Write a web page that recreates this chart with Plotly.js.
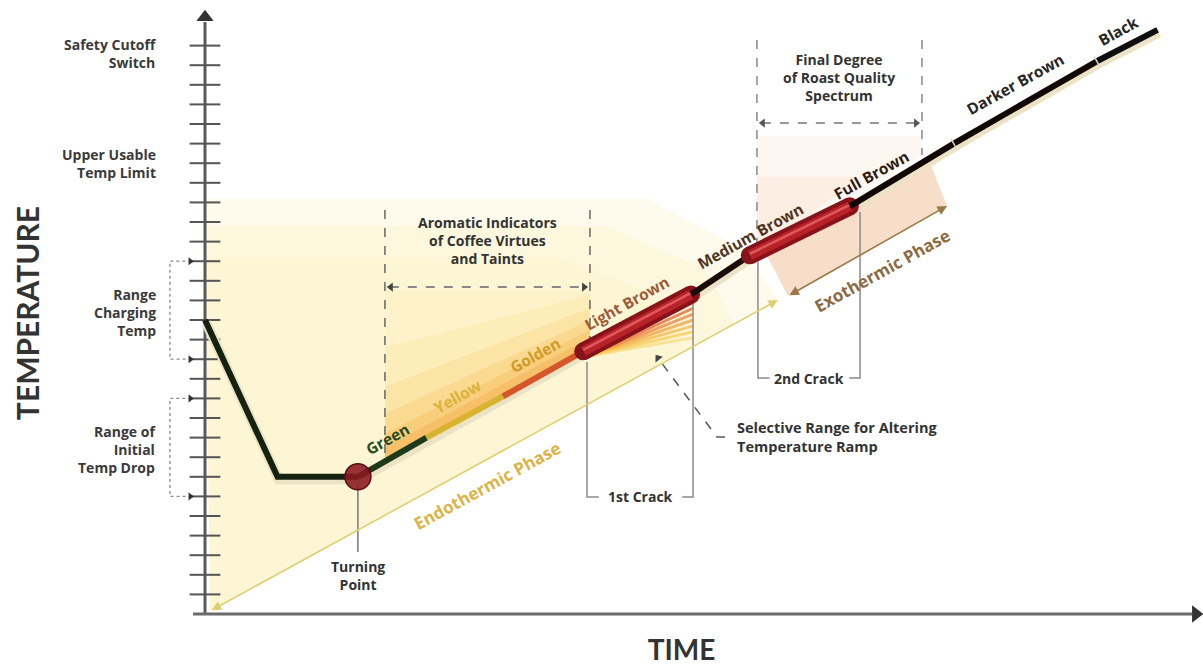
<!DOCTYPE html>
<html><head><meta charset="utf-8">
<script src="https://cdn.plot.ly/plotly-3.0.1.min.js"></script>
<style>html,body{margin:0;padding:0;background:#fff}#chart{width:1203px;height:666px}</style>
</head><body><div id="chart"></div>
<script>
// ---------- data (time / temperature in axis tick units) ----------
const roastTime = [0, 3.7, 7.8, 11.3, 15.2, 19.3, 24.8, 27.8, 32.9, 38.2, 45.5, 48.6];
const roastTemp = [15.0, 7.0, 7.0, 9.0, 11.1, 13.4, 16.3, 18.3, 20.8, 24.0, 28.2, 29.8];
const segStart = [0, 2, 3, 4, 5, 6, 7, 8, 9, 10];
const segEnd   = [2, 3, 4, 5, 6, 7, 8, 9, 10, 11];
const segIsCrack = [false, false, false, false, true, false, true, false, false, false];

const stageNames = ['Green', 'Yellow', 'Golden', 'Light Brown', 'Medium Brown', 'Full Brown', 'Darker Brown', 'Black'];
const stageLabelTime = [9.29, 12.91, 16.84, 21.53, 27.81, 33.98, 41.33, 46.58];
const stageLabelTemp = [8.95, 11.1, 13.2, 15.85, 19.3, 22.4, 27.05, 29.75];

const tickLevels = [1,2,3,4,5,6,7,8,9,10,11,12,13,14,15,16,17,18,19,20,21,22,23,24,25,26,27,28,29];
const axisEndTime = 50.36, axisEndTemp = 30.2;

const sideLabels = ['Safety Cutoff<br>Switch', 'Upper Usable<br>Temp Limit', 'Range<br>Charging<br>Temp', 'Range of<br>Initial<br>Temp Drop'];
const sideLabelTemp = [28.62, 23.01, 15.36, 8.37];
const rangeTop = [18, 11];
const rangeBottom = [13, 6];

const crackNames = ['1st Crack', '2nd Crack'];
const crackStart = [19.49, 28.21];
const crackEnd = [24.90, 33.42];
const crackStartTemp = [12.86, 17.96];
const crackEndTemp = [16.02, 20.51];
const crackLabelTemp = [5.97, 12.04];

const turningLabelTemp = 3.16;

const aromaStart = 9.18, aromaEnd = 19.64, aromaTop = 20.61, aromaArrowTemp = 16.68;
const aromaStartCurve = 7.81, aromaEndCurve = 13.57;
const finalStart = 28.16, finalEnd = 36.58, finalTop = 29.29, finalArrowTemp = 25.05;
const finalStartCurve = 18.47, finalEndCurve = 23.42;

const endoFrom = [0.26, 0.15], endoTo = [29.23, 16.02];
const exoFrom = [29.74, 16.22], exoTo = [37.86, 20.82];
const exoZoneX = [28.57, 29.74, 37.86, 36.89];
const exoZoneY = [18.47, 16.22, 20.82, 23.27];

const fanOrigin = [19.54, 13.16];
const fanEndTime = 24.9;
const fanEndTemp = [15.9, 15.6, 15.3, 15.0, 14.7, 14.4, 14.1];

const selectPath = {x: [26.53, 26.12, 23.11], y: [9.03, 9.03, 13.06]};

// ---------- styles ----------
const F = '"Open Sans", Lato, sans-serif';
const FT = 'Lato, "Open Sans", sans-serif';
const segColor = ['#14220f', '#1f3a1a', '#d8b330', '#d5562b', '#8e151a', '#1a0c08', '#8e151a', '#120906', '#120906', '#0e0e0e'];
const stageColor = ['#2a4a22', '#d9b43a', '#cf9a25', '#9c5b3a', '#4f3420', '#2c1c12', '#262626', '#262626'];
const fanColor = ['rgba(207,58,34,0.7)', 'rgba(221,90,42,0.7)', 'rgba(230,122,48,0.7)', 'rgba(238,154,56,0.7)', 'rgba(242,178,64,0.7)', 'rgba(245,199,74,0.7)', 'rgba(247,214,110,0.6)'];

const traces = [];
function poly(x, y, color) {
  traces.push({type: 'scatter', mode: 'lines', x: x, y: y, fill: 'toself', fillcolor: color, line: {width: 0}, hoverinfo: 'skip'});
}
function line(x, y, color, width, dash) {
  traces.push({type: 'scatter', mode: 'lines', x: x, y: y, line: {color: color, width: width, dash: dash || 'solid'}, hoverinfo: 'skip'});
}
function marks(x, y, symbol, size, color, angle, lineW) {
  const m = {symbol: symbol, size: size, color: color, angle: angle || 0};
  if (lineW) m.line = {color: color, width: lineW};
  traces.push({type: 'scatter', mode: 'markers', x: x, y: y, marker: m, hoverinfo: 'skip', cliponaxis: false});
}

// background glow (endothermic zone), soft layered
poly([0, 22.5, 27.5, 29.23, endoFrom[0]], [21.2, 21.2, 18.6, endoTo[1], endoFrom[1]], 'rgba(253,248,220,0.55)');
poly([0, 20.5, 25.5, 27.0, endoFrom[0]], [19.8, 19.8, 17.6, 14.8, endoFrom[1]], 'rgba(252,245,205,0.45)');
poly([0, 18.0, 23.0, 24.5, endoFrom[0]], [18.2, 18.2, 16.3, 13.4, endoFrom[1]], 'rgba(252,243,195,0.35)');
// aromatic zone gradient (fades upward from curve)
const aromaTops = [[16.5, 16.5], [13.6, 16.3], [11.6, 15.6], [10.2, 15.0], [9.2, 14.5], [8.5, 14.1]];
const aromaFill = ['rgba(252,236,180,0.35)', 'rgba(251,224,150,0.3)', 'rgba(250,208,120,0.3)', 'rgba(248,192,95,0.3)', 'rgba(246,178,75,0.3)', 'rgba(243,160,60,0.3)'];
aromaTops.forEach((t, i) => poly([aromaStart, aromaEnd, aromaEnd, aromaStart], [t[0], t[1], aromaEndCurve, aromaStartCurve], aromaFill[i]));
// final degree + exothermic zones
poly([finalStart, finalEnd, finalEnd, finalStart], [24.4, 24.4, finalEndCurve, finalStartCurve], 'rgba(250,232,214,0.35)');
poly([finalStart, 33.5, finalStart], [22.3, 22.3, finalStartCurve], 'rgba(248,222,200,0.35)');
poly(exoZoneX, exoZoneY, 'rgba(246,216,192,0.85)');
// fan under 1st crack
fanEndTemp.forEach((t, i) => line([fanOrigin[0], fanEndTime], [fanOrigin[1], t], fanColor[i], 3));

// axes
line([0, 0], [0, axisEndTemp], '#5a5a5a', 3);
line([-0.61, axisEndTime], [0, 0], '#6a6a6a', 3);
marks(tickLevels.map(() => 0), tickLevels, 'line-ew', 22, '#555', 0, 2);
marks([0], [30.45], 'triangle-up', 15, '#333');
marks([50.55], [0], 'triangle-right', 15, '#333');

// left range brackets
rangeTop.forEach((t, i) => {
  line([-0.7, -1.79, -1.79, -0.7], [t, t, rangeBottom[i], rangeBottom[i]], '#888', 1.3, 'dot');
  marks([-0.75, -0.75], [t, rangeBottom[i]], 'triangle-right', 7, '#333');
});

// aromatic bracket
line([aromaStart, aromaStart], [aromaTop, aromaStartCurve], '#666', 1.5, 'dash');
line([aromaEnd, aromaEnd], [aromaTop, aromaEndCurve], '#666', 1.5, 'dash');
line([aromaStart + 0.25, aromaEnd - 0.25], [aromaArrowTemp, aromaArrowTemp], '#666', 1.5, 'dash');
marks([aromaStart + 0.3], [aromaArrowTemp], 'triangle-left', 8, '#444');
marks([aromaEnd - 0.3], [aromaArrowTemp], 'triangle-right', 8, '#444');
// final degree bracket
line([finalStart, finalStart], [finalTop, finalStartCurve], '#888', 1.5, 'dash');
line([finalEnd, finalEnd], [finalTop, finalEndCurve], '#888', 1.5, 'dash');
line([finalStart + 0.25, finalEnd - 0.25], [finalArrowTemp, finalArrowTemp], '#777', 1.5, 'dash');
marks([finalStart + 0.3], [finalArrowTemp], 'triangle-left', 8, '#555');
marks([finalEnd - 0.3], [finalArrowTemp], 'triangle-right', 8, '#555');

// crack brackets
crackNames.forEach((n, i) => {
  line([crackStart[i], crackStart[i], crackStart[i] + 0.6], [crackStartTemp[i], crackLabelTemp[i], crackLabelTemp[i]], '#8a8a8a', 1.5);
  line([crackEnd[i], crackEnd[i], crackEnd[i] - 0.55], [crackEndTemp[i], crackLabelTemp[i], crackLabelTemp[i]], '#8a8a8a', 1.5);
});
// turning point leader
line([roastTime[2], roastTime[2]], [roastTemp[2], turningLabelTemp], '#777', 1.5);

// curve shadow
line(roastTime.map(t => t + 0.06), roastTemp.map(t => t - 0.13), '#ece3c6', 10);
// curve segments
segStart.forEach((s, i) => {
  const xs = roastTime.slice(s, segEnd[i] + 1), ys = roastTemp.slice(s, segEnd[i] + 1);
  if (segIsCrack[i]) {
    marks([xs[0], xs[xs.length - 1]], [ys[0], ys[ys.length - 1]], 'circle', 18, '#86121a');
    line(xs, ys, '#86121a', 18);
    line(xs, ys, '#b8232a', 10);
    line(xs, ys.map(v => v + 0.08), '#e0595d', 2.5);
  } else {
    line(xs, ys, segColor[i], 6);
  }
});
// stage dividers on the dark end of the curve
marks([roastTime[9], roastTime[10]], [roastTemp[9], roastTemp[10]], 'line-ns', 8, '#d8d8d8', -29, 1.5);
// turning point
traces.push({type: 'scatter', mode: 'markers', x: [roastTime[2]], y: [roastTemp[2]], marker: {size: 26, color: 'rgba(138,24,30,0.88)', line: {color: '#5c0d12', width: 1.5}}, hoverinfo: 'skip'});
// selective range leader
line(selectPath.x, selectPath.y, '#555', 1.5, 'dash');
marks([selectPath.x[2]], [selectPath.y[2]], 'triangle-up', 8, '#444', -37);

// ---------- annotations ----------
const ann = [];
const bold = (size, color) => ({family: F, size: size, color: color, weight: 'bold'});
stageNames.forEach((n, i) => ann.push({x: stageLabelTime[i], y: stageLabelTemp[i], text: n, showarrow: false, textangle: -29, font: bold(15.5, stageColor[i])}));
sideLabels.forEach((n, i) => ann.push({xref: 'paper', x: -0.002, xanchor: 'right', y: sideLabelTemp[i], text: n, align: 'right', showarrow: false, font: bold(14, '#3a3a3a')}));
crackNames.forEach((n, i) => ann.push({x: (crackStart[i] + crackEnd[i]) / 2, y: crackLabelTemp[i], text: n, showarrow: false, font: bold(14, '#333')}));
ann.push({x: roastTime[2], y: turningLabelTemp - 0.15, yanchor: 'top', text: 'Turning<br>Point', showarrow: false, font: bold(14, '#333')});
ann.push({x: (aromaStart + aromaEnd) / 2, y: 19.08, text: 'Aromatic Indicators<br>of Coffee Virtues<br>and Taints', showarrow: false, font: bold(14, '#333')});
ann.push({x: (finalStart + finalEnd) / 2, y: 27.35, text: 'Final Degree<br>of Roast Quality<br>Spectrum', showarrow: false, font: bold(14, '#333')});
ann.push({x: 27.04, y: 9.03, xanchor: 'left', align: 'left', text: 'Selective Range for Altering<br>Temperature Ramp', showarrow: false, font: bold(14.5, '#333')});
ann.push({x: 14.39, y: 6.58, text: 'Endothermic Phase', textangle: -28.6, showarrow: false, font: bold(17, '#dcb445')});
ann.push({x: 34.54, y: 17.55, text: 'Exothermic Phase', textangle: -29, showarrow: false, font: bold(17, '#8c6a42')});
ann.push({x: endoTo[0], y: endoTo[1], ax: endoFrom[0], ay: endoFrom[1], axref: 'x', ayref: 'y', text: '', showarrow: true, arrowside: 'end+start', arrowhead: 2, startarrowhead: 2, arrowsize: 1.2, startarrowsize: 1.2, arrowwidth: 1.6, arrowcolor: '#e0cf72'});
ann.push({x: exoTo[0], y: exoTo[1], ax: exoFrom[0], ay: exoFrom[1], axref: 'x', ayref: 'y', text: '', showarrow: true, arrowside: 'end+start', arrowhead: 2, startarrowhead: 2, arrowsize: 1.2, startarrowsize: 1.2, arrowwidth: 1.6, arrowcolor: '#9a7848'});

const axisCommon = {showgrid: false, zeroline: false, showline: false, showticklabels: false, ticks: '', fixedrange: true, automargin: false};
const layout = {
  width: 1203, height: 666,
  margin: {l: 160, r: 0, t: 0, b: 40},
  paper_bgcolor: '#ffffff', plot_bgcolor: '#ffffff',
  showlegend: false, hovermode: false,
  xaxis: Object.assign({}, axisCommon, {range: [-2.296, 50.918], title: {text: 'TIME', standoff: 20, font: {family: FT, size: 28, color: '#333', weight: 'bold'}}}),
  yaxis: Object.assign({}, axisCommon, {range: [-0.612, 31.327], title: {text: 'TEMPERATURE', standoff: 110, font: {family: FT, size: 30, color: '#333', weight: 'bold'}}}),
  annotations: ann
};
Plotly.newPlot('chart', traces, layout, {displayModeBar: false, staticPlot: true});
</script></body></html>
